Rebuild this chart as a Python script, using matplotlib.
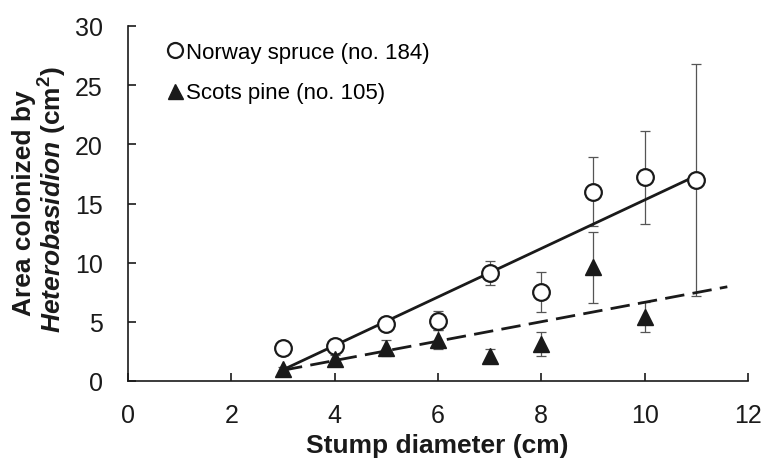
import matplotlib
matplotlib.use("Agg")
import matplotlib.pyplot as plt
import numpy as np

plt.rcParams['font.family'] = ['Liberation Sans', 'DejaVu Sans']
plt.rcParams['mathtext.fontset'] = 'custom'
plt.rcParams['mathtext.it'] = 'Liberation Sans:italic:bold'
plt.rcParams['mathtext.rm'] = 'Liberation Sans:bold'
plt.rcParams['mathtext.bf'] = 'Liberation Sans:bold'

# Data
diam_spruce = [3, 4, 5, 6, 7, 8, 9, 10, 11]
area_spruce = [2.8, 3.0, 4.8, 5.1, 9.1, 7.5, 16.0, 17.2, 17.0]
err_spruce = [0.6, 0.4, 0.4, 0.8, 1.0, 1.7, 2.9, 3.9, 9.8]

diam_pine = [3, 4, 5, 6, 7, 8, 9, 10]
area_pine = [1.0, 1.9, 2.8, 3.5, 2.1, 3.1, 9.6, 5.4]
err_pine = [0.2, 0.3, 0.7, 0.8, 0.6, 1.0, 3.0, 1.3]

# trend lines: intercept, slope, x-range
fit_spruce = (-5.2, 2.05)
fit_spruce_x = [3, 11]
fit_pine = (-1.55, 0.82)
fit_pine_x = [3, 11.6]

xticks = [0, 2, 4, 6, 8, 10, 12]
yticks = [0, 5, 10, 15, 20, 25, 30]

INK = '#1a1a1a'

fig = plt.figure(figsize=(7.63, 4.64), dpi=100)
ax = fig.add_axes([128/763, 82/464, (748-128)/763, (382-27)/464])

ax.errorbar(diam_spruce, area_spruce, yerr=err_spruce, fmt='none',
            ecolor='#555555', elinewidth=0.9, capsize=3.5, capthick=0.9, zorder=2)
ax.errorbar(diam_pine, area_pine, yerr=err_pine, fmt='none',
            ecolor='#555555', elinewidth=0.9, capsize=3.5, capthick=0.9, zorder=2)

xs = np.array(fit_spruce_x)
ax.plot(xs, fit_spruce[0] + fit_spruce[1]*xs, color=INK, lw=2.0, zorder=3)
xp = np.array(fit_pine_x)
ax.plot(xp, fit_pine[0] + fit_pine[1]*xp, color=INK, lw=2.0,
        dashes=(7, 3), zorder=3)

ax.plot(diam_spruce, area_spruce, 'o', ms=12, mfc='white', mec=INK,
        mew=1.6, linestyle='none', label='Norway spruce (no. 184)', zorder=4)
ax.plot(diam_pine, area_pine, '^', ms=12, mfc=INK, mec=INK,
        linestyle='none', label='Scots pine (no. 105)', zorder=4)

ax.set_xlim(0, 12)
ax.set_ylim(0, 30)
ax.set_xticks(xticks)
ax.set_yticks(yticks)
ax.tick_params(direction='in', length=6, width=1.2, labelsize=18,
               colors=INK)
ax.tick_params(axis='x', pad=16)
ax.tick_params(axis='y', pad=18)
for s in ['top', 'right']:
    ax.spines[s].set_visible(False)
for s in ['left', 'bottom']:
    ax.spines[s].set_linewidth(1.2)
    ax.spines[s].set_color(INK)

fig.text(437/763, 1 - 446/464, 'Stump diameter (cm)', fontsize=19,
         fontweight='bold', ha='center', va='center', color=INK)
fig.text(24/763, 1 - 203/464, 'Area colonized by', rotation=90, fontsize=19,
         fontweight='bold', ha='center', va='center', color=INK)
fig.text(53/763, 1 - 200/464, r'$\mathit{Heterobasidion}$ (cm$^{2}$)',
         rotation=90, fontsize=19, fontweight='bold', ha='center', va='center',
         color=INK)

leg = ax.legend(loc='upper left', bbox_to_anchor=(0.043, 0.980), frameon=False,
                fontsize=16, handletextpad=0.0, handlelength=1.0,
                labelspacing=0.87, markerscale=0.9, borderaxespad=0.0)

fig.savefig('out.png', dpi=100)
